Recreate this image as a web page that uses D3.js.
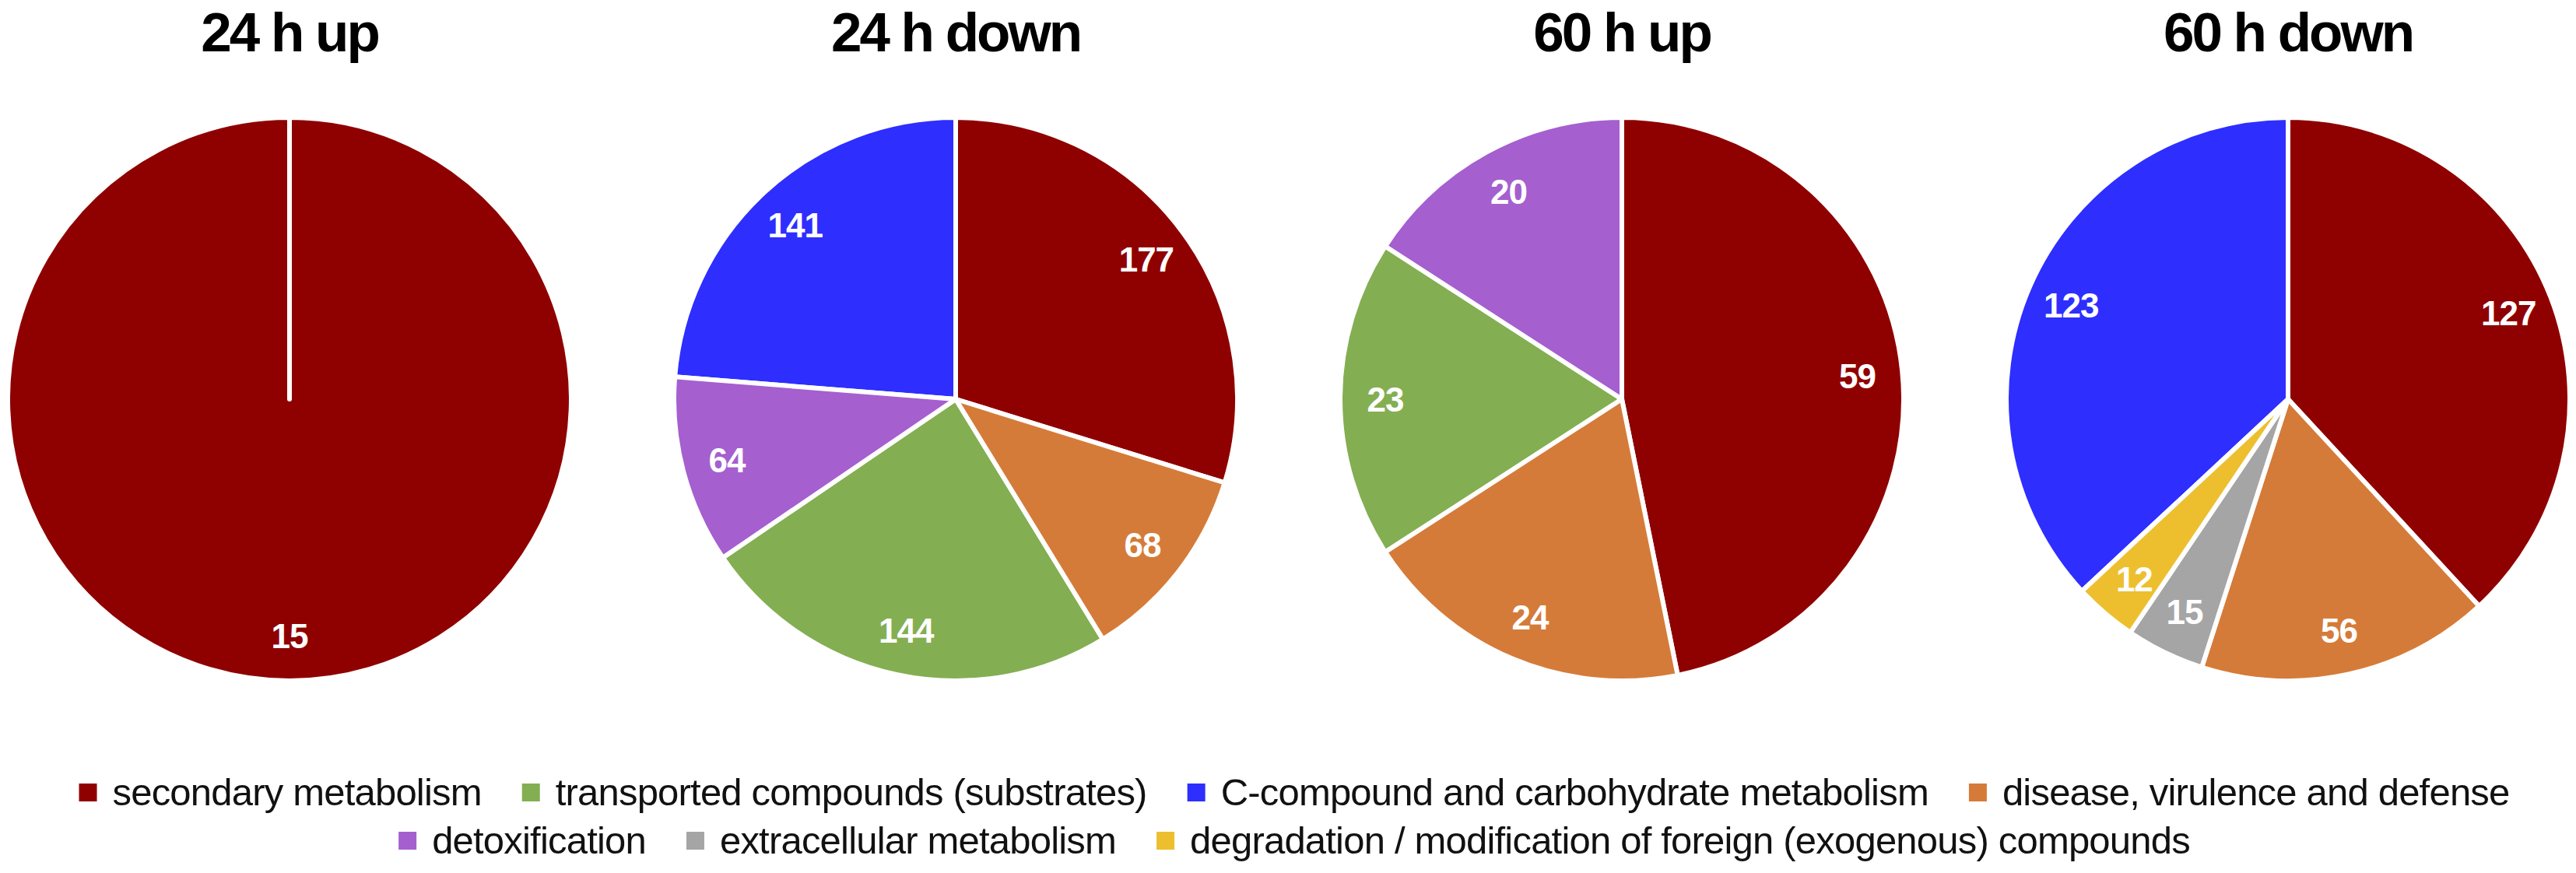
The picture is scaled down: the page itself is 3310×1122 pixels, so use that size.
<!DOCTYPE html>
<html>
<head>
<meta charset="utf-8">
<script src="https://cdn.jsdelivr.net/npm/d3@7"></script>
<style>
  html, body { margin: 0; padding: 0; background: #fff; }
  svg { display: block; }
</style>
</head>
<body>
<div id="chart"></div>
<script>
// Categories, in the order the legend lists them
const categories = [
  'secondary metabolism',
  'transported compounds (substrates)',
  'C-compound and carbohydrate metabolism',
  'disease, virulence and defense',
  'detoxification',
  'extracellular metabolism',
  'degradation / modification of foreign (exogenous) compounds',
];
const categoryColors = [
  '#8f0000', '#84ae52', '#2e2eff', '#d57b39', '#a55fcf', '#a5a5a5', '#edbf2f',
];

// Order the slices go round each pie (clockwise from 12 o'clock)
const sliceOrder = [0, 3, 1, 5, 6, 4, 2];

const panelTitles = ['24 h up', '24 h down', '60 h up', '60 h down'];

// Counts per panel, indexed like `categories` (0 = not present)
const up24 = [15, 0, 0, 0, 0, 0, 0];
const down24 = [177, 144, 141, 68, 64, 0, 0];
const up60 = [59, 23, 0, 24, 20, 0, 0];
const down60 = [127, 0, 123, 56, 0, 15, 12];
const panelValues = [up24, down24, up60, down60];

// Legend split into two rows
const legendRows = [[0, 1, 2, 3], [4, 5, 6]];

const width = 3310;
const height = 1122;
const radius = 362;
const pieY = 513;
const labelRadius = radius * 0.84;

const svg = d3.select('#chart')
  .append('svg')
  .attr('width', width)
  .attr('height', height);

const color = d3.scaleOrdinal().domain(d3.range(categories.length)).range(categoryColors);

// Pie centres spread evenly across the width
const xPanel = d3.scalePoint()
  .domain(panelTitles)
  .range([372, 2940]);

const pie = d3.pie()
  .sort((a, b) => sliceOrder.indexOf(a.cat) - sliceOrder.indexOf(b.cat))
  .value((d) => d.value);

const arc = d3.arc().innerRadius(0).outerRadius(radius);
const labelArc = d3.arc().innerRadius(labelRadius).outerRadius(labelRadius);

panelTitles.forEach((title, i) => {
  const data = panelValues[i]
    .map((value, cat) => ({ cat, value }))
    .filter((d) => d.value > 0);

  const arcs = pie(data);
  // a lone slice still shows its white seam at 12 o'clock
  arcs.forEach((a) => {
    if (a.endAngle - a.startAngle >= 2 * Math.PI - 1e-9) a.endAngle -= 1e-4;
  });

  const g = svg.append('g')
    .attr('class', 'panel')
    .attr('transform', `translate(${xPanel(title)},${pieY})`);

  g.selectAll('path')
    .data(arcs)
    .enter()
    .append('path')
    .attr('d', arc)
    .style('fill', (d) => color(d.data.cat))
    .style('stroke', '#fff')
    .style('stroke-width', 6)
    .style('stroke-linejoin', 'round');

  g.selectAll('text.value')
    .data(arcs)
    .enter()
    .append('text')
    .attr('class', 'value')
    .attr('transform', (d) => `translate(${labelArc.centroid(d)})`)
    .attr('text-anchor', 'middle')
    .attr('dy', '0.36em')
    .style('font-family', '"Liberation Sans", Arial, sans-serif')
    .style('font-weight', 'bold')
    .style('font-size', '44px')
    .style('letter-spacing', '-1px')
    .style('fill', '#fff')
    .text((d) => d.data.value);

  svg.append('text')
    .attr('x', xPanel(title))
    .attr('y', 66)
    .attr('text-anchor', 'middle')
    .style('font-family', '"Liberation Sans", Arial, sans-serif')
    .style('font-weight', 'bold')
    .style('font-size', '71px')
    .style('letter-spacing', '-3px')
    .style('fill', '#000')
    .text(title);
});

// Legend: rows of swatch + label, each row centred
const legend = svg.append('g').attr('class', 'legend');
const rowBaselines = [1035, 1097];
const swatch = 23;
const swatchGap = 20;
const itemGap = 52;

legendRows.forEach((row, r) => {
  const rowG = legend.append('g');
  let x = 0;
  row.forEach((cat) => {
    const item = rowG.append('g').attr('transform', `translate(${x},0)`);
    item.append('rect')
      .attr('x', 0)
      .attr('y', -swatch - 5)
      .attr('width', swatch)
      .attr('height', swatch)
      .style('fill', color(cat));
    const label = item.append('text')
      .attr('x', swatch + swatchGap)
      .attr('y', 0)
      .style('font-family', '"Liberation Sans", Arial, sans-serif')
      .style('font-size', '49px')
      .style('letter-spacing', '-0.8px')
      .style('fill', '#111')
      .text(categories[cat]);
    x += swatch + swatchGap + label.node().getComputedTextLength() + itemGap;
  });
  const rowWidth = x - itemGap;
  rowG.attr('transform', `translate(${1663 - rowWidth / 2},${rowBaselines[r]})`);
});
</script>
</body>
</html>
